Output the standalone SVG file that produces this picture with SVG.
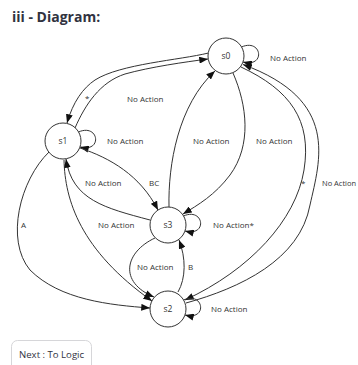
<svg xmlns="http://www.w3.org/2000/svg" width="358" height="365" viewBox="0 0 358 365">
<style>
.node circle{fill:#fff;stroke:#333;stroke-width:1}
.node text{font-family:"Open Sans","Noto Sans",sans-serif;font-size:8.5px;fill:#333;text-anchor:middle}
.edges path{fill:none;stroke:#333;stroke-width:1;marker-end:url(#ah)}
.lbl{font-family:"Open Sans","Noto Sans",sans-serif;font-size:8px;fill:#333}
.title{font-family:"Open Sans","Noto Sans",sans-serif;font-size:14px;font-weight:bold;fill:#31333f}
.btn{fill:#fff;stroke:#d6d6d9;stroke-width:1}
.btntext{font-family:"Open Sans","Noto Sans",sans-serif;font-size:9.6px;fill:#31333f}
</style>
<defs>
<marker id="ah" viewBox="0 0 10 8" refX="10" refY="4" markerWidth="9" markerHeight="7" markerUnits="userSpaceOnUse" orient="auto">
<path d="M0,0 L10,4 L0,8 z" fill="#111"/>
</marker>
</defs>
<rect width="358" height="365" fill="#fff"/>
<text class="title" x="12" y="22">iii - Diagram:</text>

<g class="edges" id="connectors">
<path id="e-s0-s1" d="M208.5,53 C180,60 120,64 95,80 C83,88 73,102 67,123"/>
<path id="e-s1-s0" d="M75,128 C85,105 100,82 125,74 C150,67 185,62 208,59"/>
<path id="e-s0-loop" d="M241.5,47 C262,38 266,68 243,62"/>
<path id="e-s3-s0" d="M169,207 C168,165 178,105 215,71"/>
<path id="e-s0-s3" d="M233,73 C247,105 252,145 230,175 C215,195 198,205 183,214"/>
<path id="e-s0-s2" d="M241,67 C290,90 312,120 304,170 C296,220 250,270 185,300"/>
<path id="e-s2-s0" d="M186,303 C240,288 300,260 310,205 C320,160 340,100 243,64.5"/>
<path id="e-s1-loop" d="M78.5,132 C99,123 103,153 80,147"/>
<path id="e-s1-s3" d="M80,148 C110,158 140,175 158,210"/>
<path id="e-s3-s1" d="M150,220 C105,208 72,200 66,159"/>
<path id="e-s2-s1" d="M64,160 C65,200 80,250 152,301"/>
<path id="e-s1-s2" d="M49,152 C20,180 5,240 30,270 C60,300 110,305 150,308"/>
<path id="e-s3-loop" d="M183.5,216 C204,207 208,237 185,231"/>
<path id="e-s3-s2" d="M155,238 C125,252 118,282 154,297"/>
<path id="e-s2-s3" d="M178,292 C186,278 186,258 179,240"/>
<path id="e-s2-loop" d="M183.5,300 C204,291 208,321 185,315"/>
</g>

<g id="edge-labels">
<text class="lbl" x="270" y="61">No Action</text>
<text class="lbl" x="85" y="101">*</text>
<text class="lbl" x="127" y="102">No Action</text>
<text class="lbl" x="107" y="144">No Action</text>
<text class="lbl" x="193" y="144">No Action</text>
<text class="lbl" x="256" y="144">No Action</text>
<text class="lbl" x="85" y="186">No Action</text>
<text class="lbl" x="149" y="186">BC</text>
<text class="lbl" x="301" y="186">*</text>
<text class="lbl" x="322" y="186" style="font-size:7.5px">No Action</text>
<text class="lbl" x="21" y="228">A</text>
<text class="lbl" x="98" y="228">No Action</text>
<text class="lbl" x="213" y="228">No Action*</text>
<text class="lbl" x="137" y="270">No Action</text>
<text class="lbl" x="188" y="270">B</text>
<text class="lbl" x="211" y="312">No Action</text>
</g>

<g class="node" id="s0"><circle cx="226" cy="56" r="18"/><text x="226" y="59">s0</text></g>
<g class="node" id="s1"><circle cx="63" cy="141" r="18"/><text x="63" y="144">s1</text></g>
<g class="node" id="s3"><circle cx="168" cy="225" r="18"/><text x="168" y="228">s3</text></g>
<g class="node" id="s2"><circle cx="168" cy="309" r="18"/><text x="168" y="312">s2</text></g>

<g id="button">
<rect class="btn" x="11.5" y="340.5" width="80" height="34" rx="6"/>
<text class="btntext" x="19" y="358">Next : To Logic</text>
</g>
</svg>
